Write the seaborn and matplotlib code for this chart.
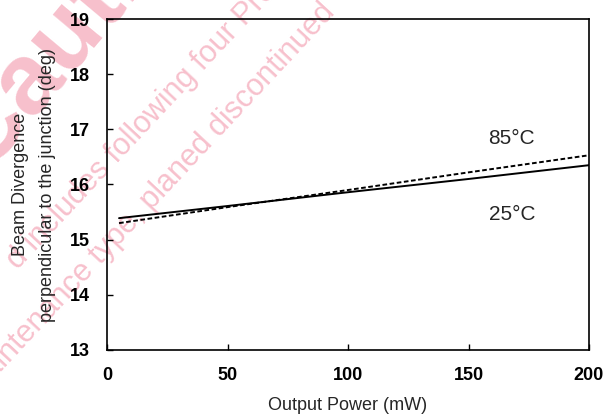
import matplotlib
matplotlib.use('Agg')
import matplotlib.pyplot as plt
import seaborn as sns
import pandas as pd

# values
power_mw = [5, 50, 100, 150, 200]
div_25c = [15.39, 15.61, 15.86, 16.10, 16.35]
div_85c = [15.30, 15.59, 15.90, 16.22, 16.53]
series_names = ['25°C', '85°C']
x_ticks = [0, 50, 100, 150, 200]
y_ticks = [13, 14, 15, 16, 17, 18, 19]

sns.set_style('ticks')
plt.rcParams['font.family'] = ['Liberation Sans', 'DejaVu Sans']

df = pd.DataFrame({
    'power': power_mw + power_mw,
    'div': div_25c + div_85c,
    'temp': [series_names[0]] * len(power_mw) + [series_names[1]] * len(power_mw),
})

W, H = 608, 416
fig = plt.figure(figsize=(W / 100, H / 100), dpi=100)

# faint watermark behind the plot
wm = '#f7c0cc'
fig.text(-15 / W, 1 - 173 / H, 'Caution', fontsize=72, fontweight='bold', color=wm,
         rotation=50, rotation_mode='anchor', ha='left', va='baseline', zorder=-2)
fig.text(12 / W, 1 - 265 / H, 'd includes following four Products', fontsize=22,
         color=wm, rotation=47, rotation_mode='anchor', ha='left', va='center',
         zorder=-2)
fig.text(-30 / W, 1 - 394 / H, 'maintenance type, planed discontinued', fontsize=22,
         color=wm, rotation=47, rotation_mode='anchor', ha='left', va='center',
         zorder=-2)

ax = fig.add_axes([107 / W, 1 - 350 / H, 482 / W, 331 / H])
ax.patch.set_alpha(0)

sns.lineplot(data=df, x='power', y='div', style='temp', style_order=series_names,
             dashes={series_names[0]: '', series_names[1]: (2.4, 1.3)},
             color='black', linewidth=1.4, legend=False, ax=ax)

ax.text(168, 16.84, series_names[1], ha='center', va='center', fontsize=15)
ax.text(168, 15.45, series_names[0], ha='center', va='center', fontsize=15)

ax.set_xlim(0, 200)
ax.set_ylim(13, 19)
ax.set_xticks(x_ticks)
ax.set_yticks(y_ticks)
ax.tick_params(direction='in', length=4.5, width=1, labelsize=13, pad=12,
               top=False, right=False, colors='black')
for lbl in ax.get_xticklabels() + ax.get_yticklabels():
    lbl.set_fontweight('bold')
for sp in ax.spines.values():
    sp.set_visible(True)
    sp.set_color('black')
    sp.set_linewidth(1.2)

ax.set_xlabel('Output Power (mW)', fontsize=13)
ax.set_ylabel('Beam Divergence\nperpendicular to the junction (deg)', fontsize=13,
              linespacing=1.8)
ax.xaxis.set_label_coords(0.5, (350 - 406) / 331)
ax.xaxis.label.set_verticalalignment('center')
ax.yaxis.set_label_coords((34 - 107) / 482, 0.5)
ax.yaxis.label.set_verticalalignment('center')

fig.savefig('out.png', dpi=100)
plt.close(fig)
